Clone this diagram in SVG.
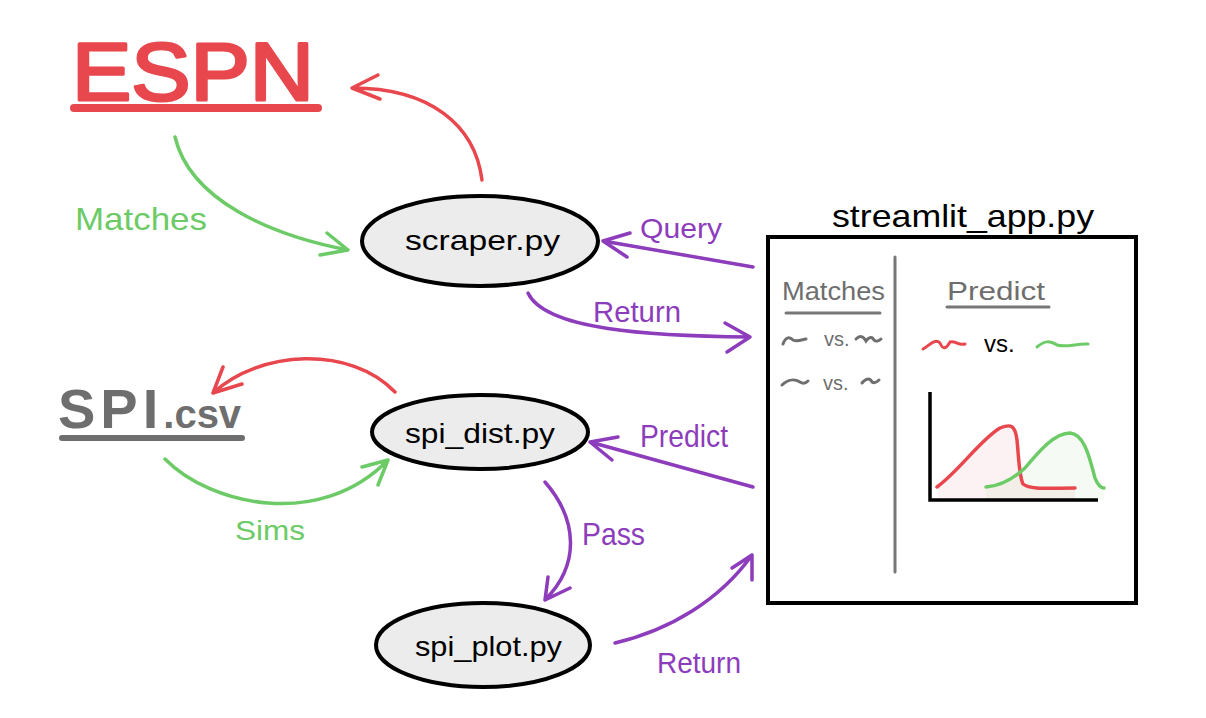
<svg xmlns="http://www.w3.org/2000/svg" width="1206" height="718" viewBox="0 0 1206 718">
<style>
  text { font-family: "Liberation Sans", "DejaVu Sans", sans-serif; }
  .red { stroke: #E8474E; }
  .green { stroke: #6CCB66; }
  .purple { stroke: #8D3CBC; }
  .gray { stroke: #6E6E6E; }
  .con { fill: none; stroke-width: 3.5; stroke-linecap: round; stroke-linejoin: round; }
  .node { fill: #ECECEC; stroke: #000; stroke-width: 4; }
  .lbl { font-size: 28px; fill: #000; }
  .tr { fill: #E8474E; }
  .tg { fill: #6CCB66; }
  .tp { fill: #8D3CBC; }
  .tgr { fill: #6E6E6E; }
</style>
<rect x="0" y="0" width="1206" height="718" fill="#fff"/>

<g id="espn">
  <text x="72" y="100" font-size="82" class="tr" stroke="#E8474E" stroke-width="3" stroke-linejoin="round" textLength="242" lengthAdjust="spacingAndGlyphs">ESPN</text>
  <line x1="74" y1="108" x2="318" y2="108" stroke="#E8474E" stroke-width="8" stroke-linecap="round"/>
</g>

<g id="spi-csv">
  <text x="58" y="428" font-weight="bold" class="tgr"><tspan font-size="56" letter-spacing="5">SPI</tspan><tspan font-size="40">.csv</tspan></text>
  <line x1="62" y1="438" x2="242" y2="438" stroke="#6E6E6E" stroke-width="6" stroke-linecap="round"/>
</g>

<g id="scraper">
  <ellipse cx="480" cy="241" rx="118" ry="45" class="node"/>
  <text x="405" y="250" class="lbl" textLength="155" lengthAdjust="spacingAndGlyphs">scraper.py</text>
</g>

<g id="spi-dist">
  <ellipse cx="480" cy="432" rx="108" ry="37" class="node"/>
  <text x="405" y="443" class="lbl" textLength="150" lengthAdjust="spacingAndGlyphs">spi_dist.py</text>
</g>

<g id="spi-plot">
  <ellipse cx="483" cy="645" rx="107" ry="42" class="node"/>
  <text x="415" y="656" class="lbl" textLength="147" lengthAdjust="spacingAndGlyphs">spi_plot.py</text>
</g>

<g id="streamlit-app">
  <text x="832" y="227" font-size="32" fill="#000" textLength="262" lengthAdjust="spacingAndGlyphs">streamlit_app.py</text>
  <rect x="768" y="237" width="368" height="366" fill="#fff" stroke="#000" stroke-width="4"/>
  <line x1="895" y1="257" x2="895" y2="572" stroke="#777" stroke-width="3" stroke-linecap="round"/>
  <text x="782" y="300" font-size="26" class="tgr" textLength="103" lengthAdjust="spacingAndGlyphs">Matches</text>
  <line x1="786" y1="313" x2="880" y2="313" stroke="#777" stroke-width="3" stroke-linecap="round"/>
  <text x="947" y="300" font-size="26" class="tgr" textLength="98" lengthAdjust="spacingAndGlyphs">Predict</text>
  <line x1="947" y1="307" x2="1049" y2="307" stroke="#777" stroke-width="3" stroke-linecap="round"/>
  <g fill="none" stroke="#6E6E6E" stroke-width="3" stroke-linecap="round">
    <path d="M783,344 C786,336 790,337 793,340 C797,342 801,340 806,339"/>
    <path d="M856,339 C860,335 863,336 866,341 C869,337 872,336 874,340 C876,342 879,341 881,339"/>
    <path d="M782,385 C788,379 795,379 800,382 C803,384 806,383 808,381"/>
    <path d="M862,383 C866,378 870,378 872,382 C875,384 877,382 879,380"/>
  </g>
  <text x="824" y="346" font-size="20" class="tgr">vs.</text>
  <text x="823" y="390" font-size="20" class="tgr">vs.</text>
  <path d="M923,349 C930,345 935,338 940,343 C943,350 946,349 950,342 C955,340 958,346 965,344" fill="none" stroke="#E8474E" stroke-width="3" stroke-linecap="round"/>
  <text x="984" y="352" font-size="24" fill="#000">vs.</text>
  <path d="M1037,347 C1045,340 1050,341 1057,345 C1066,348 1078,343 1088,344" fill="none" stroke="#6CCB66" stroke-width="3" stroke-linecap="round"/>
  <path d="M938,488 C960,470 980,440 1000,428 C1010,424 1015,424 1017,440 C1019,460 1019,475 1023,484 C1030,490 1050,488 1075,488 L1075,500 L938,500 Z" fill="#E8474E" fill-opacity="0.07"/>
  <path d="M986,487 C1000,486 1012,480 1025,468 C1040,450 1055,433 1070,433 C1085,434 1090,460 1095,478 C1098,486 1102,488 1104,488 L1104,500 L986,500 Z" fill="#6CCB66" fill-opacity="0.07"/>
  <path d="M937,487 C960,470 980,440 1000,428 C1010,424 1015,424 1017,440 C1019,460 1019,475 1023,484 C1030,490 1050,488 1075,488" fill="none" stroke="#E8474E" stroke-width="3.5" stroke-linecap="round"/>
  <path d="M986,487 C1000,486 1012,480 1025,468 C1040,450 1055,433 1070,433 C1085,434 1090,460 1095,478 C1098,486 1102,488 1104,488" fill="none" stroke="#6CCB66" stroke-width="3.5" stroke-linecap="round"/>
  <path d="M930,392 L930,500 L1098,500" fill="none" stroke="#000" stroke-width="3.5"/>
</g>

<g id="connectors">
  <path class="con red" d="M482,180 C475,125 430,88 352,88 M378,75 L352,88 L380,99"/>
  <path class="con green" d="M175,137 C190,200 270,235 348,250 M327,233 L348,250 L320,255"/>
  <path class="con purple" d="M753,267 L603,241 M630,233 L603,241 L627,257"/>
  <path class="con purple" d="M528,293 C545,330 650,336 750,337 M725,323 L750,337 L727,352"/>
  <path class="con red" d="M395,392 C350,345 260,350 213,393 M223,367 L213,393 L242,384"/>
  <path class="con green" d="M165,459 C210,505 320,530 388,460 M362,467 L388,460 L378,485"/>
  <path class="con purple" d="M753,487 L590,442 M618,437 L590,442 L612,460"/>
  <path class="con purple" d="M545,482 C578,520 580,565 545,600 M548,577 L545,600 L570,588"/>
  <path class="con purple" d="M615,643 C670,630 720,600 752,555 M732,568 L752,555 L752,580"/>
  <text x="75" y="230" font-size="32" class="tg" textLength="132" lengthAdjust="spacingAndGlyphs">Matches</text>
  <text x="640" y="238" font-size="28" class="tp" textLength="82" lengthAdjust="spacingAndGlyphs">Query</text>
  <text x="593" y="322" font-size="30" class="tp" textLength="88" lengthAdjust="spacingAndGlyphs">Return</text>
  <text x="235" y="540" font-size="28" class="tg" textLength="70" lengthAdjust="spacingAndGlyphs">Sims</text>
  <text x="640" y="447" font-size="32" class="tp" textLength="88" lengthAdjust="spacingAndGlyphs">Predict</text>
  <text x="582" y="545" font-size="32" class="tp" textLength="63" lengthAdjust="spacingAndGlyphs">Pass</text>
  <text x="657" y="673" font-size="30" class="tp" textLength="84" lengthAdjust="spacingAndGlyphs">Return</text>
</g>
</svg>
